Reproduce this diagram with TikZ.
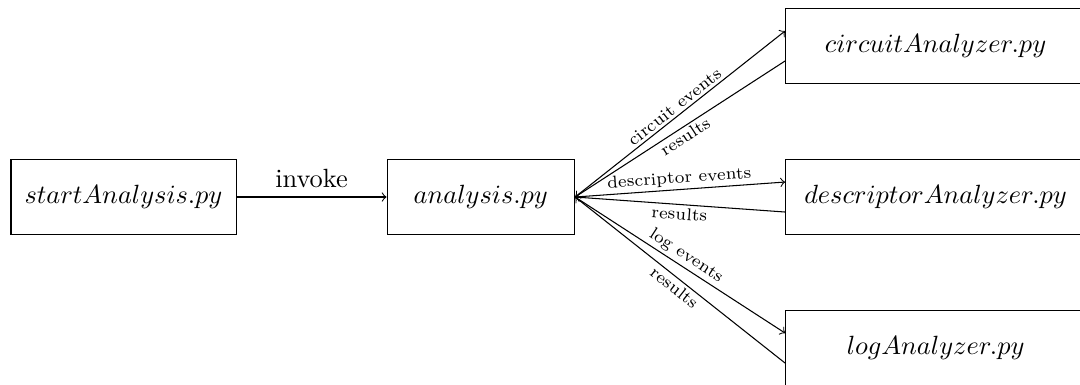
\documentclass[tikz,border=0pt]{standalone}
\usepackage{amsmath, amssymb}
\usetikzlibrary{positioning}

\begin{document}
\begin{tikzpicture}[
        script/.style={draw, rectangle, minimum height=1cm, minimum width=2.5cm},
        analyzer/.style={script, minimum width=4cm},
        lbl/.style={font=\fontsize{6.5pt}{7.5pt}\selectfont, sloped, inner sep=1pt}
    ]
        \useasboundingbox (0, 0) rectangle (14.4, -5.133);
        \node[script, minimum width=3cm] at (1.647, -2.627) (start) {$startAnalysis.py$};
        \node[script, right=2cm of start] (analysis) {$analysis.py$};
        \node[analyzer, right=2.8cm of analysis] (descriptor) {$descriptorAnalyzer.py$};
        \node[analyzer, above=1cm of descriptor] (circuit) {$circuitAnalyzer.py$};
        \node[analyzer, below=1cm of descriptor] (log) {$logAnalyzer.py$};
        \draw[->] (start) -- node[above] {invoke} (analysis);
        \draw[->] (analysis.east) -- node[lbl, above] {circuit events} ([yshift=0.2cm]circuit.west);
        \draw[<-] (analysis.east) -- node[lbl, below] {results} ([yshift=-0.2cm]circuit.west);
        \draw[->] (analysis.east) -- node[lbl, above] {descriptor events} ([yshift=0.2cm]descriptor.west);
        \draw[<-] (analysis.east) -- node[lbl, below] {results} ([yshift=-0.2cm]descriptor.west);
        \draw[->] (analysis.east) -- node[lbl, above] {log events} ([yshift=0.2cm]log.west);
        \draw[<-] (analysis.east) -- node[lbl, below] {results} ([yshift=-0.2cm]log.west);
    \end{tikzpicture}
\end{document}
